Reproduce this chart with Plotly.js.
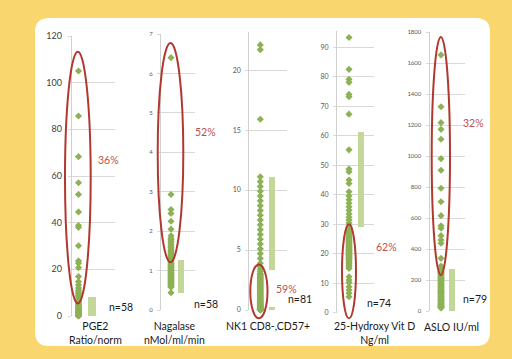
<!DOCTYPE html>
<html><head><meta charset="utf-8">
<script src="https://cdn.plot.ly/plotly-3.0.1.min.js"></script>
<style>html,body{margin:0;padding:0;background:#f9d66e;}#chart{width:512px;height:359px;}</style>
</head><body><div id="chart"></div>
<script>
// ---------- data ----------
const axisLabels = ['PGE2<br>Ratio/norm', 'Nagalase<br>nMol/ml/min', 'NK1 CD8-,CD57+', '25-Hydroxy Vit D<br>Ng/ml', 'ASLO IU/ml'];
const countLabels = ['n=58', 'n=58', 'n=81', 'n=74', 'n=79'];
const percentLabels = ['36%', '52%', '59%', '62%', '32%'];

const pge2 = [105, 85.7, 68.3, 57.1, 52.1, 44.6, 38.8, 38.0, 30.1, 23.6, 22.6, 20.7, 16.9, 14.7, 13.3,
  12.0, 11.0, 10.2, 9.5, 8.8, 8.2, 7.6, 7.0, 6.5, 6.0, 5.5, 5.0, 4.6, 4.2, 3.8, 3.5, 3.2, 2.9, 2.6, 2.3,
  2.1, 1.9, 1.7, 1.5, 1.3, 1.2, 1.1, 1.0, 0.9, 0.8, 0.7, 0.6, 0.5, 0.5, 0.4, 0.4, 0.3, 0.3, 0.2, 0.2, 0.1, 0.1, 0.0];
const nagalase = [6.40, 2.93, 2.55, 2.45, 2.25, 2.05, 1.88, 1.82, 1.78, 1.74, 1.70, 1.66, 1.62, 1.58, 1.54, 1.50,
  1.47, 1.44, 1.41, 1.38, 1.35, 1.32, 1.29, 1.26, 1.23, 1.20, 1.18, 1.16, 1.14, 1.12, 1.10, 1.08, 1.06, 1.04,
  1.02, 1.00, 0.98, 0.96, 0.94, 0.92, 0.90, 0.88, 0.86, 0.84, 0.82, 0.80, 0.78, 0.76, 0.74, 0.72, 0.70, 0.68,
  0.66, 0.64, 0.62, 0.60, 0.58, 0.44];
const nk1 = [22.1, 21.7, 15.9, 11.1, 10.7, 10.3, 9.9, 9.5, 9.1, 8.7, 8.3, 7.9, 7.5, 7.1, 6.7, 6.3, 5.9, 5.5, 5.1,
  4.7, 4.3, 3.9, 3.6, 3.4, 3.2, 3.05, 2.95, 2.85, 2.78, 2.7, 2.62, 2.55, 2.48, 2.4, 2.33, 2.26, 2.2, 2.12, 2.05,
  1.98, 1.9, 1.84, 1.77, 1.7, 1.63, 1.56, 1.5, 1.43, 1.36, 1.3, 1.23, 1.16, 1.1, 1.03, 0.97, 0.9, 0.84, 0.78,
  0.72, 0.66, 0.6, 0.55, 0.5, 0.45, 0.4, 0.36, 0.32, 0.28, 0.24, 0.2, 0.17, 0.14, 0.11, 0.08, 0.06, 0.04, 0.03,
  0.02, 0.01, 0.0, 0.0];
const vitD = [93.3, 82.5, 79.1, 78.1, 74.0, 73.2, 67.3, 55.2, 48.7, 47.8, 45.0, 43.8, 41.0, 39.6, 38.3, 37.1, 35.9,
  34.7, 33.5, 32.4, 31.4, 30.4, 29.5, 28.7, 27.9, 27.2, 26.5, 25.8, 25.1, 24.5, 23.9, 23.3, 22.7, 22.1, 21.6,
  21.1, 20.6, 20.1, 19.6, 19.1, 18.6, 18.1, 17.6, 17.1, 16.6, 16.1, 15.6, 15.0, 12.2, 11.1, 10.2, 8.8, 7.7, 6.6,
  5.4, 29.0, 28.3, 27.5, 26.8, 26.1, 25.4, 24.8, 24.2, 23.6, 23.0, 22.4, 21.9, 21.3, 20.8, 20.3, 19.8, 19.3, 18.8, 18.3];
const aslo = [1652, 1318, 1215, 1172, 1108, 983, 908, 792, 705, 615, 550, 534, 486, 458, 437, 340, 290, 269,
  255, 250, 246, 240, 232, 228, 220, 214, 210, 203, 198, 190, 186, 180, 175, 168, 162, 158, 150, 146, 140, 133,
  128, 122, 117, 110, 106, 100, 95, 88, 84, 78, 72, 68, 62, 57, 52, 47, 42, 38, 33, 28, 24, 20,
  244, 236, 224, 206, 194, 172, 155, 137, 125, 113, 92, 75, 65, 45, 35, 30, 22];

const yMax = [120, 7, 23.2, 95.6, 1800];
const yStep = [20, 1, 5, 10, 200];
const barLow = [[0], [0.42], [3.33, -0.28], [29.2], [-15]];
const barHigh = [[8.3], [1.27], [11.06, 0.28], [61.2], [269]];
const ellipseLow = [5.4, 1.21, -0.69, -1.9, 232];
const ellipseHigh = [113.3, 6.77, 3.8, 30.0, 1768];

// ---------- layout geometry (pixels) ----------
const W = 512, H = 359;
const geom = [
  {L: 71.7, R: 115, B: 316, T: 36, mx: 78.5, bx: 92.3, bw: 8.3, eL: 65, eR: 90.7, tf: 9, tc: '#404040', so: 4,
   pct: [96.7, 160], cnt: [108.3, 307.3], lab: [95, 333]},
  {L: 161, R: 195, B: 310, T: 34, mx: 171, bx: 181, bw: 6.6, eL: 157.7, eR: 183.3, tf: 6, tc: '#595959', so: 3,
   pct: [194.3, 132.3], cnt: [193.3, 304], lab: [174.5, 333]},
  {L: 249.3, R: 286.7, B: 310, T: 31.7, mx: 260.3, bx: 272, bw: 6.6, eL: 250.3, eR: 267.5, tf: 7, tc: '#595959', so: 3,
   pct: [275, 289.3], cnt: [287, 299], lab: [268, 326]},
  {L: 337, R: 374, B: 312.7, T: 30.7, mx: 349, bx: 361, bw: 6.6, eL: 342, eR: 356, tf: 7, tc: '#595959', so: 3,
   pct: [375, 246.7], cnt: [366, 303.3], lab: [374, 333]},
  {L: 429.5, R: 465, B: 311, T: 32, mx: 441, bx: 452, bw: 6, eL: 431.7, eR: 450, tf: 6, tc: '#595959', so: 3,
   pct: [461.7, 122.7], cnt: [462.3, 299], lab: [451.3, 326.7]}
];
const series = [pge2, nagalase, nk1, vitD, aslo];

const px = v => v / W, py = v => 1 - v / H;
function roundedRect(x0, y0, x1, y1, r) {
  return 'M' + px(x0 + r) + ',' + py(y0) + ' L' + px(x1 - r) + ',' + py(y0) +
    ' Q' + px(x1) + ',' + py(y0) + ' ' + px(x1) + ',' + py(y0 + r) +
    ' L' + px(x1) + ',' + py(y1 - r) +
    ' Q' + px(x1) + ',' + py(y1) + ' ' + px(x1 - r) + ',' + py(y1) +
    ' L' + px(x0 + r) + ',' + py(y1) +
    ' Q' + px(x0) + ',' + py(y1) + ' ' + px(x0) + ',' + py(y1 - r) +
    ' L' + px(x0) + ',' + py(y0 + r) +
    ' Q' + px(x0) + ',' + py(y0) + ' ' + px(x0 + r) + ',' + py(y0) + ' Z';
}

const font = 'Lato, "Open Sans", sans-serif';
const traces = [], shapes = [], annotations = [];
const layout = {
  width: W, height: H, autosize: false,
  margin: {l: 0, r: 0, t: 0, b: 0},
  paper_bgcolor: '#f9d66e', plot_bgcolor: 'rgba(0,0,0,0)',
  showlegend: false, font: {family: font},
  bargap: 0
};
shapes.push({type: 'path', xref: 'paper', yref: 'paper', layer: 'below',
  path: roundedRect(35, 18, 490, 346, 14), fillcolor: '#ffffff', line: {width: 0}});

geom.forEach((g, i) => {
  const n = i === 0 ? '' : String(i + 1);
  const unit = g.bx - g.mx;
  layout['xaxis' + n] = {
    domain: [g.L / W, g.R / W], range: [(g.L - g.mx) / unit, (g.R - g.mx) / unit],
    anchor: 'y' + n, showgrid: false, zeroline: false, showticklabels: false, showline: false,
    ticks: '', fixedrange: true
  };
  layout['yaxis' + n] = {
    domain: [py(g.B), py(g.T)], range: [0, yMax[i]], anchor: 'x' + n,
    tick0: 0, dtick: yStep[i], showgrid: true, gridcolor: '#d9d9d9', gridwidth: 1,
    zeroline: false, showline: true, linecolor: '#d0d0d0', linewidth: 1,
    ticks: 'outside', ticklen: 3, tickcolor: '#d9d9d9', ticklabelstandoff: g.so,
    tickfont: {size: g.tf, color: g.tc, family: font}, fixedrange: true
  };
  traces.push({
    type: 'bar', xaxis: 'x' + n, yaxis: 'y' + n,
    x: barLow[i].map(() => 1), base: barLow[i],
    y: barHigh[i].map((h, k) => h - barLow[i][k]),
    width: g.bw / unit, marker: {color: '#c4d79b', line: {width: 0}},
    cliponaxis: false, hoverinfo: 'skip'
  });
  traces.push({
    type: 'scatter', mode: 'markers', xaxis: 'x' + n, yaxis: 'y' + n,
    x: series[i].map(() => 0), y: series[i],
    marker: {symbol: 'diamond', size: 5.5, color: '#8db255'},
    cliponaxis: false, hoverinfo: 'y'
  });
  shapes.push({
    type: 'circle', xref: 'x' + n + ' domain', yref: 'y' + n + ' domain', layer: 'above',
    x0: (g.eL - g.L) / (g.R - g.L), x1: (g.eR - g.L) / (g.R - g.L),
    y0: (ellipseLow[i] - 0) / yMax[i], y1: (ellipseHigh[i] - 0) / yMax[i],
    line: {color: '#b0382e', width: 2}
  });
  annotations.push({xref: 'paper', yref: 'paper', x: px(g.pct[0]), y: py(g.pct[1]),
    xanchor: 'left', yanchor: 'middle', showarrow: false, text: percentLabels[i],
    font: {size: 10.5, color: '#c0504d', family: font}, borderpad: 0});
  annotations.push({xref: 'paper', yref: 'paper', x: px(g.cnt[0]), y: py(g.cnt[1]),
    xanchor: 'left', yanchor: 'middle', showarrow: false, text: countLabels[i],
    font: {size: 10.5, color: '#1a1a1a', family: font}, borderpad: 0});
  annotations.push({xref: 'paper', yref: 'paper', x: px(g.lab[0]), y: py(g.lab[1]),
    xanchor: 'center', yanchor: 'middle', showarrow: false, text: axisLabels[i], align: 'center',
    font: {size: 10.5, color: '#1a1a1a', family: font}, borderpad: 0});
});
layout.shapes = shapes;
layout.annotations = annotations;

Plotly.newPlot('chart', traces, layout, {displayModeBar: false, staticPlot: true});
</script>
</body></html>
